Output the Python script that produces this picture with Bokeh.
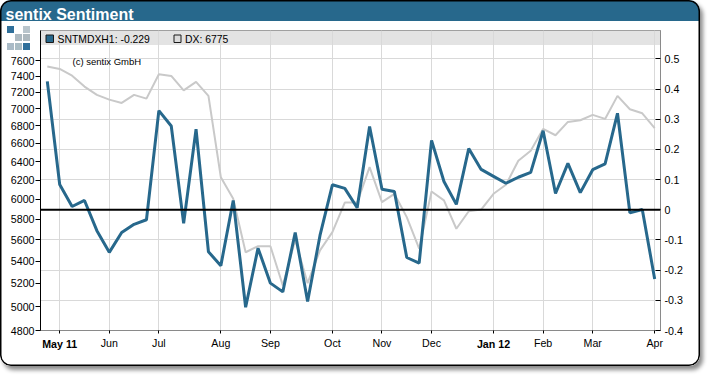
from bokeh.plotting import figure
from bokeh.embed import file_html
from bokeh.resources import INLINE
from bokeh.models import (Range1d, LogScale, LinearAxis, FixedTicker, Grid, Title,
                          Span, BoxAnnotation, Label, ColumnDataSource)

title = "sentix Sentiment"
credit = "(c) sentix GmbH"
legend_labels = ["SNTMDXH1: -0.229", "DX: 6775"]

sentiment = [0.426, 0.084, 0.011, 0.031, -0.069, -0.141, -0.075, -0.048, -0.033, 0.329,
             0.278, -0.045, 0.267, -0.139, -0.185, 0.031, -0.323, -0.127, -0.243, -0.272,
             -0.075, -0.304, -0.085, 0.083, 0.071, 0.007, 0.276, 0.068, 0.061, -0.158,
             -0.177, 0.230, 0.094, 0.018, 0.203, 0.134, 0.111, 0.088, 0.108, 0.124,
             0.262, 0.054, 0.154, 0.057, 0.133, 0.152, 0.320, -0.010, 0.001, -0.229]
dx = [7523, 7493, 7408, 7271, 7169, 7112, 7072, 7169, 7124, 7425,
      7405, 7225, 7329, 7157, 6231, 6006, 5484, 5541, 5541, 5182,
      5600, 5203, 5502, 5675, 5968, 5968, 6339, 5972, 6058, 5822,
      5518, 6082, 5990, 5708, 5881, 5898, 6058, 6152, 6408, 6518,
      6766, 6693, 6847, 6866, 6929, 6882, 7157, 6996, 6948, 6775]
weeks = list(range(len(sentiment)))

month_weeks = [1, 5, 9, 14, 18, 23, 27, 31, 36, 40, 44, 49]
month_labels = ["May 11", "Jun", "Jul", "Aug", "Sep", "Oct", "Nov", "Dec", "Jan 12", "Feb", "Mar", "Apr"]
bold_labels = ["May 11", "Jan 12"]
left_ticks = [4800, 5000, 5200, 5400, 5600, 5800, 6000, 6200, 6400, 6600, 6800, 7000, 7200, 7400, 7600]
right_ticks = [-0.4, -0.3, -0.2, -0.1, 0, 0.1, 0.2, 0.3, 0.4, 0.5]
right_labels = ["-0.4", "-0.3", "-0.2", "-0.1", "0", "0.1", "0.2", "0.3", "0.4", "0.5"]

BLUE = "#27688c"
GRAY = "#c9c9c9"
GRID = "#d9d9d9"
FRAME = "#8a8a8a"
FONT = "Liberation Sans"
SIZE = "10.67px"

# logo mosaic, title bar, rounded panel and soft shadow live on the figure's own element
logo = [(7, 26, "#2f6f9a"), (23, 26, "#b9c5cc"),
        (15, 34, "#aebac1"), (23, 34, "#aeb9bf"),
        (7, 43, "#a9bac6"), (15, 43, "#a9bcc4"), (23, 43, "#2f6f9a")]
layers = [f"linear-gradient({c},{c}) {l}px {t}px / 7px 7px no-repeat" for l, t, c in logo]
layers.append(f"linear-gradient({BLUE} 21px, white 21px)")

p = figure(frame_width=620, frame_height=300, x_axis_type=None, y_axis_type=None,
           x_range=Range1d(-0.549, 49.47), y_range=Range1d(-0.4, 0.5944),
           toolbar_location=None, output_backend="svg",
           min_border_left=40, min_border_right=40, min_border_top=30, min_border_bottom=36,
           outline_line_color=FRAME, outline_line_width=1,
           background_fill_color="white", border_fill_color=None)
p.styles = {"border-radius": "11px",
            "background": ", ".join(layers),
            "box-shadow": "inset 0 0 0 1.5px #000000, 3px 4px 4px #8c8c8c"}
p.extra_y_ranges = {"dx": Range1d(4800, 8000)}
p.extra_y_scales = {"dx": LogScale()}

p.add_layout(Title(text=title, text_font=FONT, text_font_size="16px", text_font_style="bold",
                   text_color="white", align="left", offset=-35, standoff=11, vertical_align="top"), "above")


def box(l, t, r, b, fill, line=None, level="underlay"):
    p.add_layout(BoxAnnotation(left=l, right=r, top=t, bottom=b, left_units="canvas", right_units="canvas",
                               top_units="canvas", bottom_units="canvas", fill_color=fill, fill_alpha=1,
                               line_color=line, line_alpha=1 if line else 0, line_width=1, level=level))


# legend band under the grid
box(40, 30, 660, 44.5, "#e3e3e3")

x_axis = LinearAxis(ticker=FixedTicker(ticks=month_weeks),
                    major_label_overrides={w: ("" if l in bold_labels else l) for w, l in zip(month_weeks, month_labels)},
                    major_tick_out=3, major_tick_in=0, major_tick_line_color="#000000",
                    axis_line_color=FRAME, minor_tick_line_color=None,
                    major_label_text_font=FONT, major_label_text_font_size=SIZE,
                    major_label_text_color="#000000", major_label_standoff=3)
p.add_layout(x_axis, "below")

bold_axis = LinearAxis(ticker=FixedTicker(ticks=[w for w, l in zip(month_weeks, month_labels) if l in bold_labels]),
                       major_label_overrides={w: l for w, l in zip(month_weeks, month_labels) if l in bold_labels},
                       major_tick_out=0, major_tick_in=0, major_tick_line_color=None,
                       axis_line_color=None, minor_tick_line_color=None,
                       major_label_text_font=FONT, major_label_text_font_size=SIZE,
                       major_label_text_font_style="bold",
                       major_label_text_color="#000000", major_label_standoff=-14)
p.add_layout(bold_axis, "below")

right_axis = LinearAxis(ticker=FixedTicker(ticks=right_ticks),
                        major_label_overrides=dict(zip(right_ticks, right_labels)),
                        major_tick_out=0, major_tick_in=5, major_tick_line_color="#000000",
                        axis_line_color=FRAME, minor_tick_line_color=None,
                        major_label_text_font=FONT, major_label_text_font_size=SIZE,
                        major_label_text_color="#000000", major_label_standoff=4)
p.add_layout(right_axis, "right")

left_axis = LinearAxis(y_range_name="dx", ticker=FixedTicker(ticks=left_ticks),
                       major_tick_out=5, major_tick_in=0, major_tick_line_color="#000000",
                       axis_line_color="#000000", minor_tick_line_color=None,
                       major_label_text_font=FONT, major_label_text_font_size=SIZE,
                       major_label_text_color="#000000", major_label_standoff=1)
p.add_layout(left_axis, "left")

p.add_layout(Grid(dimension=0, axis=x_axis, ticker=x_axis.ticker, grid_line_color=GRID, level="underlay"))
p.add_layout(Grid(dimension=1, axis=right_axis, ticker=right_axis.ticker, grid_line_color=GRID, level="underlay"))

src = ColumnDataSource(dict(week=weeks, sentiment=sentiment, dx=dx))
p.line("week", "dx", source=src, y_range_name="dx", line_color=GRAY, line_width=2, line_join="bevel")
p.line("week", "sentiment", source=src, line_color=BLUE, line_width=3, line_join="bevel")
p.add_layout(Span(location=0, dimension="width", line_color="#000000", line_width=2, level="overlay"))


def text(s, x, y, size=SIZE):
    p.add_layout(Label(x=x, y=y, x_units="canvas", y_units="canvas", text=s, text_font=FONT,
                       text_font_size=size, text_color="#000000",
                       text_align="left", text_baseline="middle"))


text(credit, 72, 60.5, size="9.5px")

# legend
box(45.5, 34.5, 53, 42, BLUE, line="#1a1a1a", level="overlay")
text(legend_labels[0], 57, 38.5, size="10.4px")
box(173.5, 34.5, 180.5, 42, "#dcdcdc", line="#1a1a1a", level="overlay")
text(legend_labels[1], 184.5, 38.5, size="10.4px")

open("out.html", "w").write(file_html(p, INLINE))
